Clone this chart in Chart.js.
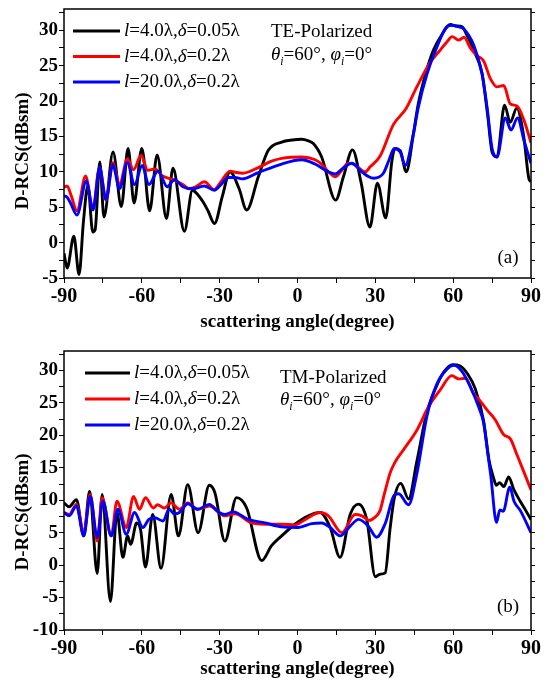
<!DOCTYPE html>
<html>
<head>
<meta charset="utf-8">
<script src="https://cdn.jsdelivr.net/npm/chart.js@4.4.1/dist/chart.umd.min.js"></script>
<style>
  html, body { margin: 0; padding: 0; background: #fff; }
  #wrap { position: relative; width: 548px; height: 680px; }
  canvas { position: absolute; left: 0; }
  #chartA { top: 0; }
  #chartB { top: 340px; }
</style>
</head>
<body>
<div id="wrap">
  <canvas id="chartA" width="548" height="340"></canvas>
  <canvas id="chartB" width="548" height="340"></canvas>
</div>
<script>
// [scattering angle (deg), D-RCS (dBsm)]
const teThin = [[-90,-1.5],[-88.8,-3.6],[-86.2,0.9],[-84.2,-4.5],[-82.5,3.0],[-80.8,8.0],[-78.9,1.5],[-78.0,1.8],[-76.2,11.4],[-74.6,3.6],[-71.1,12.8],[-67.9,5.1],[-65.3,13.3],[-63.0,5.6],[-60.0,13.3],[-57.0,4.5],[-54.1,12.4],[-50.5,3.4],[-48.0,10.5],[-43.6,1.6],[-40.5,7.4],[-38.5,6.8],[-36.5,5.8],[-34.5,4.5],[-32.0,2.7],[-29.0,6.5],[-26.0,10.0],[-22.5,7.6],[-19.6,4.6],[-15.1,9.3],[-11.3,13.0],[-6.1,14.2],[-2.0,14.5],[1.6,14.6],[4.0,14.4],[6.1,14.0],[9.3,12.1],[14.7,6.0],[17.7,9.3],[21.2,13.1],[24.5,8.5],[27.9,2.2],[30.8,8.4],[34.0,3.5],[36.4,11.6],[37.6,13.3],[39.6,13.0],[41.9,10.0],[44.7,15.4],[46.5,19.5],[49.5,24.0],[52.4,27.2],[55.5,29.3],[58.9,30.8],[61.0,30.6],[63.4,30.5],[65.3,29.3],[68.5,26.7],[71.1,24.0],[73.3,18.0],[75.0,12.8],[76.9,12.1],[79.8,19.4],[82.0,17.0],[84.5,19.0],[87.2,15.0],[89.2,9.0],[90,8.6]];
const teMid = [[-90,7.8],[-88.8,8.0],[-87.2,6.6],[-85,4.5],[-81.7,9.4],[-78.9,4.8],[-76.3,10.6],[-73.8,6.0],[-71.2,11.3],[-68.6,8.2],[-65.6,11.8],[-63.2,10.3],[-60.3,12.3],[-57.7,10.2],[-55.0,10.4],[-52.0,9.4],[-48.1,8.9],[-44.2,8.2],[-41.7,7.6],[-39.1,7.9],[-35.9,8.6],[-32.1,7.5],[-29.5,8.6],[-26.0,10.1],[-23.5,9.9],[-21.0,9.8],[-15.1,10.6],[-10.0,11.5],[-6.1,11.9],[1.6,12.1],[6.8,11.7],[9.5,11.0],[11.9,10.0],[14.7,9.3],[17.0,10.2],[19.6,11.2],[22.0,11.0],[24.8,10.2],[26.2,10.0],[28.0,10.7],[31.8,12.2],[37.0,16.7],[41.8,18.9],[46.0,22.0],[50.7,25.2],[55.0,27.2],[57.5,28.3],[59.6,29.1],[62.1,28.6],[64.2,29.0],[66.6,27.5],[69.2,26.4],[71.7,25.7],[74.3,23.2],[76.9,22.0],[79.5,22.2],[82.0,19.6],[84.6,19.3],[87.2,17.4],[90,14.1]];
const teThick = [[-90,6.6],[-88.8,6.4],[-87.5,5.6],[-85,3.9],[-81.4,8.7],[-78.8,4.6],[-76.3,10.6],[-73.8,6.1],[-71.2,11.0],[-68.6,7.6],[-65.6,11.3],[-62.8,8.2],[-59.9,10.9],[-57.3,8.2],[-53.8,10.1],[-50.2,7.9],[-47.4,8.9],[-44.2,7.9],[-40.4,7.6],[-35.9,8.0],[-32.1,7.4],[-29.5,8.2],[-26.7,9.2],[-24.0,9.2],[-21.5,9.0],[-15.1,9.9],[-6.1,11.1],[1.6,11.7],[6.8,11.1],[11.9,10.0],[14.5,9.7],[17.5,10.5],[20.9,11.2],[24.8,10.0],[27.5,9.3],[29.3,9.1],[33.1,9.8],[35.2,11.6],[37.3,13.3],[39.6,12.8],[41.5,10.9],[44.7,15.4],[46.5,19.0],[49.9,23.8],[53.7,27.6],[57.6,30.5],[59.5,30.7],[62.0,30.5],[64.0,30.2],[67.9,27.9],[71.1,23.9],[73.1,19.0],[75.0,13.3],[76.9,12.1],[80.1,17.6],[82.3,15.9],[84.8,17.6],[87.4,14.3],[90,11.2]];

const tmThin = [[-90,9.6],[-88,9.0],[-85.2,10.1],[-82.4,4.5],[-80.1,11.4],[-77.2,-1.3],[-75.3,10.9],[-72.1,-5.6],[-69.6,8.2],[-67.3,1.2],[-65.5,4.5],[-64.3,3.2],[-62.0,6.5],[-60.5,5.5],[-58.6,-0.3],[-55.8,7.8],[-52.6,-0.5],[-48.7,10.9],[-45.9,4.5],[-42.3,12.4],[-38.3,5.0],[-34.0,12.3],[-31.8,11.1],[-28.0,3.7],[-23.5,10.4],[-19.6,8.8],[-13.8,0.7],[-10.0,3.0],[-6.1,4.5],[-1.0,6.3],[4.2,7.6],[8.7,8.1],[12.6,5.8],[16.4,1.2],[20.3,7.8],[23.5,9.4],[26.7,7.0],[30.0,-1.8],[31.8,-1.4],[33.8,-1.2],[35.7,5.7],[37.3,10.3],[39.8,12.6],[42.8,10.2],[46.0,16.0],[49.9,23.6],[53.7,27.7],[56.3,29.7],[59.8,30.9],[62.7,30.7],[65.5,29.5],[68.5,27.2],[71.7,22.3],[73.8,16.2],[75.6,13.4],[76.6,12.3],[77.9,12.7],[79.5,12.1],[81.4,13.6],[83.3,11.7],[85.9,9.8],[88.0,8.4],[90,7.0]];
const tmMid = [[-90,8.1],[-88,7.8],[-85.2,9.35],[-82.4,5.0],[-79.9,10.9],[-77.2,3.7],[-75.3,10.4],[-71.8,4.5],[-69.6,9.85],[-66,5.8],[-63.2,10.6],[-60.9,8.6],[-58.6,10.4],[-55.5,8.8],[-54,9.3],[-51.3,8.8],[-48.7,9.6],[-45.5,8.6],[-42.3,9.6],[-38.5,8.6],[-34,9.1],[-28,7.6],[-24.1,7.9],[-17.7,6.5],[-12.5,6.3],[-6.1,6.3],[-1,6.2],[2.9,7.0],[8.7,8.1],[11.9,7.6],[17.1,5.0],[22.2,7.8],[24.8,7.6],[27.6,6.9],[29.9,7.4],[31.8,8.4],[33.5,11.0],[35.7,14.2],[37.5,15.8],[40.9,17.8],[46.0,20.8],[50.5,24.4],[55.0,27.0],[59.5,29.2],[62.1,28.7],[64.7,28.8],[67.9,26.4],[70.0,25.5],[73.1,23.9],[76.2,22.4],[79.5,20.1],[82.0,19.5],[84.6,17.0],[90,11.6]];
const tmThick = [[-90,8.1],[-88,7.6],[-85.2,9.1],[-82.4,4.5],[-79.9,10.6],[-77.2,4.25],[-75,9.85],[-71.8,4.5],[-69.2,8.6],[-66,4.75],[-62.8,8.1],[-59.6,5.8],[-57.3,7.05],[-55.0,7.3],[-51.9,6.8],[-49.4,8.6],[-47.5,7.9],[-45.5,8.1],[-42.3,9.45],[-38.5,8.6],[-34,9.35],[-30.5,8.2],[-28,7.8],[-24.8,8.2],[-19,7.05],[-12.5,6.5],[-6.1,5.9],[0.3,5.8],[5.5,6.4],[9.3,6.5],[12.6,5.8],[16.4,4.5],[20.3,6.0],[23.5,7.05],[27.3,6.0],[30.5,4.3],[33.8,6.4],[37.3,10.8],[39.0,11.0],[42.8,9.3],[46.0,14.1],[49.9,23.0],[53.7,27.9],[57.6,30.2],[60.3,30.8],[63.3,29.9],[66.6,27.5],[69.8,24.4],[71.7,22.0],[73.6,16.5],[74.5,13.8],[76.7,6.6],[78.0,8.5],[79.3,8.3],[81.8,12.0],[83.5,9.8],[85.9,8.4],[90,5.0]];

// legend entries: [text, italic]
const legendTexts = [
    [['l', true], ['=4.0λ,', false], ['δ', true], ['=0.05λ', false]],
    [['l', true], ['=4.0λ,', false], ['δ', true], ['=0.2λ', false]],
    [['l', true], ['=20.0λ,', false], ['δ', true], ['=0.2λ', false]]
];
const incidenceText = [['θ', true], ['i', true, true], ['=60°, ', false], ['φ', true], ['i', true, true], ['=0°', false]];
const lineColors = ['#000000', '#ff0000', '#0000ff'];

const SERIF = '"Liberation Serif", "Times New Roman", serif';

function drawRich(ctx, parts, x, y, size) {
    ctx.textBaseline = 'middle';
    ctx.textAlign = 'left';
    parts.forEach(p => {
        const sub = p[2];
        const s = sub ? size * 0.62 : size;
        ctx.font = (p[1] ? 'italic ' : '') + s + 'px ' + SERIF;
        ctx.fillText(p[0], x, sub ? y + size * 0.38 : y);
        x += ctx.measureText(p[0]).width;
    });
}

const decorPlugin = {
    id: 'decor',
    afterDraw(chart, args, o) {
        const ctx = chart.ctx;
        const a = chart.chartArea;
        ctx.save();
        ctx.fillStyle = '#000';
        ctx.strokeStyle = '#000';
        ctx.lineWidth = 1.5;
        ctx.strokeRect(a.left, a.top, a.right - a.left, a.bottom - a.top);

        // legend
        chart.data.datasets.forEach((ds, i) => {
            const y = o.legendY + i * o.legendGap;
            ctx.strokeStyle = ds.borderColor;
            ctx.lineWidth = 3;
            ctx.beginPath();
            ctx.moveTo(o.legendX, y);
            ctx.lineTo(o.legendX + o.legendLen, y);
            ctx.stroke();
            drawRich(ctx, legendTexts[i], o.legendX + o.legendLen + 4, y, 19);
        });

        // polarization note
        ctx.font = '19px ' + SERIF;
        ctx.fillText(o.polar, o.noteX, o.noteY);
        drawRich(ctx, incidenceText, o.noteX, o.noteY + o.noteGap, 19);

        // panel label
        ctx.textAlign = 'center';
        ctx.font = '19px ' + SERIF;
        ctx.fillText(o.panel, o.panelX, o.panelY);

        // axis titles
        ctx.font = 'bold 19px ' + SERIF;
        ctx.fillText('scattering angle(degree)', (a.left + a.right) / 2, o.xTitleY);
        ctx.translate(o.yTitleX, o.yTitleY);
        ctx.rotate(-Math.PI / 2);
        ctx.fillText('D-RCS(dBsm)', 0, 0);
        ctx.restore();
    }
};

function makeDatasets(series) {
    return series.map((s, i) => ({
        data: s.map(p => ({ x: p[0], y: p[1] })),
        borderColor: lineColors[i],
        borderWidth: 2.9,
        pointRadius: 0,
        fill: false,
        cubicInterpolationMode: 'monotone',
        xAxisID: 'x',
        yAxisID: 'y',
        order: 2 - i
    }));
}

function makeChart(id, series, yMin, padTop, xAxisH, deco) {
    const tickFontY = { family: SERIF, size: 19, weight: 'bold', lineHeight: 1 };
    const tickFontX = { family: SERIF, size: 20, weight: 'bold', lineHeight: 1 };
    const yAxis = {
        type: 'linear', min: yMin, max: 33,
        border: { display: false },
        grid: { drawOnChartArea: false, drawTicks: true, tickLength: 5, color: '#000', lineWidth: 1 },
        ticks: {
            stepSize: 2.5, includeBounds: false, autoSkip: false, padding: 1,
            color: '#000', font: tickFontY,
            callback: v => (v % 5 === 0 ? v : '')
        }
    };
    return new Chart(document.getElementById(id), {
        type: 'line',
        data: { datasets: makeDatasets(series) },
        options: {
            responsive: false,
            animation: false,
            devicePixelRatio: 1,
            layout: { padding: { top: padTop, right: 0, bottom: 0, left: 0 } },
            plugins: { legend: { display: false }, tooltip: { enabled: false }, decor: deco },
            scales: {
                x: {
                    type: 'linear', min: -90, max: 90,
                    border: { display: false },
                    grid: { drawOnChartArea: false, drawTicks: true, tickLength: 5, color: '#000', lineWidth: 1 },
                    ticks: {
                        stepSize: 15, autoSkip: false, maxRotation: 0, padding: 4,
                        color: '#000', font: tickFontX,
                        callback: v => (v % 30 === 0 ? v : '')
                    },
                    afterFit: s => { s.height = xAxisH; s.paddingLeft = 0; s.paddingRight = 0; }
                },
                y: Object.assign({}, yAxis, {
                    position: 'left',
                    afterFit: s => { s.width = 64; s.paddingTop = 0; s.paddingBottom = 0; }
                }),
                y2: Object.assign({}, yAxis, {
                    position: 'right',
                    ticks: { display: false, stepSize: 2.5, includeBounds: false },
                    grid: { drawOnChartArea: false, drawTicks: true, tickLength: 4, color: '#000', lineWidth: 1 },
                    afterFit: s => { s.width = 17; s.paddingTop = 0; s.paddingBottom = 0; }
                })
            }
        },
        plugins: [decorPlugin]
    });
}

makeChart('chartA', [teThin, teMid, teThick], -5, 9, 62, {
    legendX: 73, legendLen: 47, legendY: 31, legendGap: 25.5,
    polar: 'TE-Polarized', noteX: 271, noteY: 32, noteGap: 23,
    panel: '(a)', panelX: 508, panelY: 258,
    xTitleY: 322, yTitleX: 23, yTitleY: 151
});

makeChart('chartB', [tmThin, tmMid, tmThick], -10, 11, 50, {
    legendX: 85, legendLen: 45, legendY: 33, legendGap: 26,
    polar: 'TM-Polarized', noteX: 280, noteY: 38, noteGap: 22,
    panel: '(b)', panelX: 508, panelY: 267,
    xTitleY: 329, yTitleX: 23, yTitleY: 172
});
</script>
</body>
</html>
